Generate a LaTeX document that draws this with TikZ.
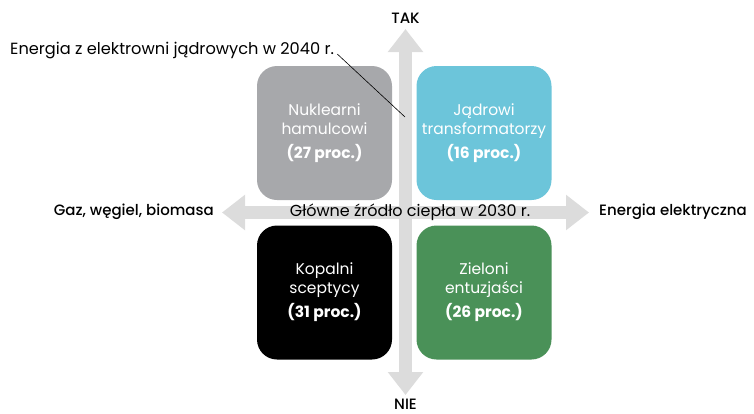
\documentclass[tikz,border=0pt]{standalone}
\usepackage{fontspec}
\setmainfont{Poppins}
\newfontfamily\medfont{Poppins Medium}
\usetikzlibrary{arrows.meta,positioning}
\definecolor{axisgray}{HTML}{DCDCDC}
\definecolor{boxgray}{HTML}{A7A8AB}
\definecolor{boxcyan}{HTML}{6CC5DA}
\definecolor{boxgreen}{HTML}{4A9158}
\tikzset{
	box/.style={rounded corners=20pt,minimum width=135pt,minimum height=134pt,
		text=white,align=center,font=\fontsize{15.5}{19}\selectfont},
	axis/.style={draw=axisgray,line width=13pt,
		{Triangle[width=34pt,length=23pt]}-{Triangle[width=34pt,length=23pt]}},
	lbl/.style={font=\medfont\fontsize{15}{16}\selectfont,text=black,inner sep=0pt},
}
\begin{document}
\begin{tikzpicture}[x=1pt,y=-1pt]
	\useasboundingbox (0,0) rectangle (754,413);
	% four groups
	\node[box,fill=boxgray] (nuk) at (324.5,133) {Nuklearni\\hamulcowi\\[5pt]\textbf{(27 proc.)}};
	\node[box,fill=boxcyan] (jad) at (484,133) {Jądrowi\\transformatorzy\\[5pt]\textbf{(16 proc.)}};
	\node[box,fill=black] (kop) at (324.5,292.5) {Kopalni\\sceptycy\\[5pt]\textbf{(31 proc.)}};
	\node[box,fill=boxgreen] (ziel) at (484,292.5) {Zieloni\\entuzjaści\\[5pt]\textbf{(26 proc.)}};
	% axes
	\coordinate (top) at (405.5,29);
	\coordinate (bot) at (405.5,395);
	\coordinate (lft) at (222,212.5);
	\coordinate (rgt) at (589,212.5);
	\draw[axis] (bot)--(top);
	\draw[axis] (lft)--(rgt);
	\node at (410,212) (cieplo) {\fontsize{16}{16}\selectfont Główne źródło ciepła w 2030 r.};
	\node[lbl,anchor=base] at (405.5,23) (tak) {TAK};
	\node[lbl,anchor=base] at (405.5,409) (nie) {NIE};
	\node[lbl,anchor=east] at (214,212) (gaz) {Gaz, węgiel, biomasa};
	\node[lbl,anchor=west] at (599,212) (prad) {Energia elektryczna};
	% nuclear axis label
	\node[anchor=base west,inner sep=0pt] at (10,54) (atom) {\fontsize{16.2}{16}\selectfont Energia z elektrowni jądrowych w 2040 r.};
	\coordinate (atomend) at (405,117);
	\draw[line width=0.6pt] ([xshift=3pt]atom.base east)--(atomend);
\end{tikzpicture}
\end{document}
